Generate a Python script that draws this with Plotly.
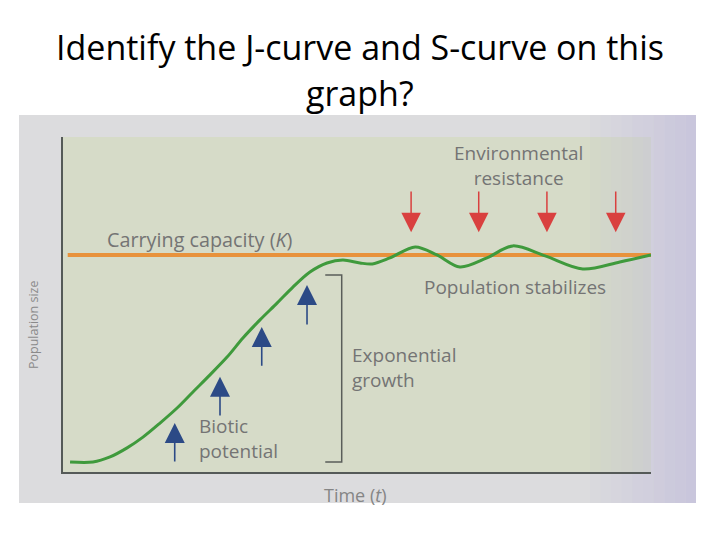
import plotly.graph_objects as go

# ---- data ----
time_vals = [1.2, 5.1, 8.0, 10.9, 13.6, 16.5, 19.4, 22.1, 25.0, 27.9, 30.6, 33.5, 36.4,
             39.1, 42.0, 44.9, 47.6, 50.5, 52.6, 55.6, 59.9, 63.6, 67.5, 72.1, 76.5,
             82.0, 88.4, 94.7, 100.0]
population = [3.0, 3.0, 4.5, 7.2, 10.4, 14.6, 19.1, 23.9, 29.0, 34.3, 40.0, 45.4, 50.4,
              55.2, 59.7, 62.4, 63.3, 62.4, 62.1, 63.9, 67.2, 64.8, 61.2, 63.9, 67.5,
              64.5, 60.6, 62.7, 64.8]
carrying_capacity = 64.8
k_line_x = [0.8, 100.0]

resistance_x = [59.2, 70.7, 82.3, 94.0]
resistance_top = 84.2
resistance_tip = 71.6

biotic_x = [19.0, 26.7, 33.8, 41.5]
biotic_tail = [2.7, 16.4, 31.3, 43.6]
biotic_tip = [14.6, 28.4, 43.3, 55.8]

bracket_x = [44.6, 47.4, 47.4, 44.6]
bracket_y = [58.8, 58.8, 3.0, 3.0]

title_lines = ["Identify the J-curve and S-curve on this", "graph?"]

W, H = 720, 540
OFF = 8  # page body margin


def px(x):
    return (x - OFF) / W


def py(y):
    return 1 - (y - OFF) / H


fig = go.Figure()

fig.add_trace(go.Scatter(x=k_line_x, y=[carrying_capacity] * 2, mode="lines",
                         line=dict(color="#e8923c", width=4), hoverinfo="skip"))
fig.add_trace(go.Scatter(x=time_vals, y=population, mode="lines",
                         line=dict(color="#3f9a3c", width=3, shape="spline", smoothing=0.9),
                         hoverinfo="skip"))
fig.add_trace(go.Scatter(x=bracket_x, y=bracket_y, mode="lines",
                         line=dict(color="#5a5e5a", width=1.5), hoverinfo="skip"))

annotations = []
for x in resistance_x:
    annotations.append(dict(x=x, y=resistance_tip, ax=x, ay=resistance_top, xref="x", yref="y",
                            axref="x", ayref="y", showarrow=True, arrowhead=2, arrowsize=2.6,
                            arrowwidth=1.5, arrowcolor="#d9403f", text=""))
for x, t0, t1 in zip(biotic_x, biotic_tail, biotic_tip):
    annotations.append(dict(x=x, y=t1, ax=x, ay=t0, xref="x", yref="y",
                            axref="x", ayref="y", showarrow=True, arrowhead=2, arrowsize=2.5,
                            arrowwidth=1.6, arrowcolor="#2c4a86", text=""))

lab_font = dict(family="Open Sans", size=19, color="#747474")
annotations += [
    dict(x=7.1, y=69.3, xref="x", yref="y", text="Carrying capacity (<i>K</i>)", showarrow=False,
         xanchor="left", yanchor="middle", font=dict(family="Open Sans", size=19.8, color="#747474")),
    dict(x=77.4, y=91.5, xref="x", yref="y", text="Environmental<br>resistance", showarrow=False,
         xanchor="center", yanchor="middle", font=lab_font),
    dict(x=76.9, y=55.2, xref="x", yref="y", text="Population stabilizes", showarrow=False,
         xanchor="center", yanchor="middle", font=lab_font),
    dict(x=48.8, y=31.3, xref="x", yref="y", text="Exponential<br>growth", showarrow=False,
         xanchor="left", yanchor="middle", align="left", font=lab_font),
    dict(x=22.8, y=9.9, xref="x", yref="y", text="Biotic<br>potential", showarrow=False,
         xanchor="left", yanchor="middle", align="left", font=lab_font),
    dict(x=px(355), y=py(495), xref="paper", yref="paper", text="Time (<i>t</i>)", showarrow=False,
         xanchor="center", yanchor="middle", font=dict(family="Open Sans", size=18, color="#858585")),
    dict(x=px(33), y=py(325), xref="paper", yref="paper", text="Population size", showarrow=False,
         textangle=-90, xanchor="center", yanchor="middle",
         font=dict(family="Open Sans", size=12.5, color="#8a8a8a")),
    dict(x=px(360), y=py(47), xref="paper", yref="paper", text=title_lines[0], showarrow=False,
         xanchor="center", yanchor="middle", font=dict(family="Open Sans", size=34, color="#000000")),
    dict(x=px(360), y=py(93), xref="paper", yref="paper", text=title_lines[1], showarrow=False,
         xanchor="center", yanchor="middle", font=dict(family="Open Sans", size=34, color="#000000")),
]

shapes = [
    dict(type="rect", xref="paper", yref="paper", x0=px(19), x1=px(696), y0=py(503), y1=py(115),
         fillcolor="#dcdcde", line=dict(width=0), layer="below"),
    dict(type="rect", xref="paper", yref="paper", x0=px(63), x1=px(651), y0=py(472), y1=py(137),
         fillcolor="#d6dbc8", line=dict(width=0), layer="below"),
]
# lavender tint toward the right edge of the photo
for i in range(10):
    x0 = 590 + i * 10.6
    shapes.append(dict(type="rect", xref="paper", yref="paper", x0=px(x0), x1=px(x0 + 10.6),
                       y0=py(503), y1=py(115), fillcolor="#bfbadb",
                       opacity=0.07 + 0.065 * i, line=dict(width=0), layer="below"))

fig.update_layout(
    width=W, height=H, margin=dict(l=0, r=0, t=0, b=0),
    paper_bgcolor="white", plot_bgcolor="rgba(0,0,0,0)",
    showlegend=False, annotations=annotations, shapes=shapes,
    xaxis=dict(domain=[px(63), px(651)], range=[0, 100], showgrid=False, zeroline=False,
               showticklabels=False, ticks="", showline=True, linecolor="#555a58", linewidth=2),
    yaxis=dict(domain=[py(472), py(137)], range=[0, 100], showgrid=False, zeroline=False,
               showticklabels=False, ticks="", showline=True, linecolor="#555a58", linewidth=2),
)

fig.write_html("out.html")
